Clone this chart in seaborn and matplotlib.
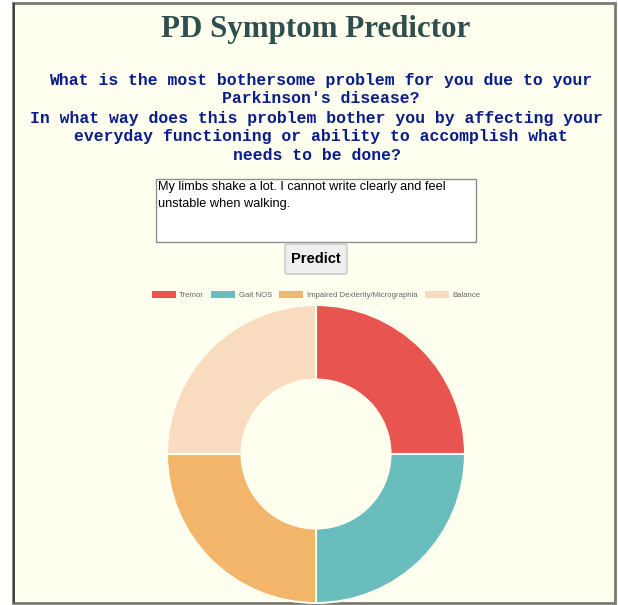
import numpy as np
import matplotlib.pyplot as plt
import seaborn as sns
from matplotlib.patches import Rectangle, FancyBboxPatch

# data
symptoms = ['Tremor', 'Gait NOS', 'Impaired Dexterity/Micrographia', 'Balance']
scores = [25, 25, 25, 25]
colors = ['#E85551', '#6ABDBD', '#F3B56A', '#F9DCC0']

title = 'PD Symptom Predictor'
question_lines = [
    "What is the most bothersome problem for you due to your",
    "Parkinson's disease?",
    "In what way does this problem bother you by affecting your",
    "everyday functioning or ability to accomplish what",
    "needs to be done?",
]
answer_lines = ["My limbs shake a lot. I cannot write clearly and feel",
                "unstable when walking."]

sns.set_theme(style='white')
plt.rcParams['font.family'] = ['Liberation Sans', 'DejaVu Sans']

W, H = 618, 605
fig = plt.figure(figsize=(W / 100, H / 100), dpi=100)
fig.patch.set_facecolor('white')


def fx(px):
    return px / W


def fy(py):
    return 1 - py / H


# page frame
fig.patches.append(Rectangle((fx(13), fy(603)), fx(602), 600 / H, transform=fig.transFigure,
                             facecolor='#FFFFF0', edgecolor='#7a7a72', lw=2, zorder=-2))
fig.patches.append(Rectangle((fx(13), fy(603)), fx(1.5), 600 / H, transform=fig.transFigure,
                             facecolor='#444444', edgecolor='none', zorder=-1))

# heading
fig.text(fx(316), fy(29), title, ha='center', va='center', fontsize=22.3,
         fontweight='bold', color='#2F4F4F', family=['Liberation Serif', 'DejaVu Serif'])

# question lines (centres as laid out on the page)
ys = [80, 99, 118, 137, 156]
xs = [320.5, 321, 316, 320.5, 317]
for line, x, y in zip(question_lines, xs, ys):
    fig.text(fx(x), fy(y), line, ha='center', va='center', fontsize=11.9,
             fontweight='bold', color='#0A1D8C', family=['Liberation Mono', 'DejaVu Sans Mono'])

# text area
fig.patches.append(Rectangle((fx(156), fy(242)), fx(320), 63 / H, transform=fig.transFigure,
                             facecolor='white', edgecolor='#8f8f8f', lw=1, zorder=2))
for i, line in enumerate(answer_lines):
    fig.text(fx(158), fy(187 + i * 17), line, ha='left', va='center', fontsize=9.2,
             color='black', zorder=3)

# button
fig.patches.append(FancyBboxPatch((fx(285), fy(274)), fx(62), 30 / H, transform=fig.transFigure,
                                  boxstyle='round,pad=0,rounding_size=0.004',
                                  facecolor='#EFEFEF', edgecolor='#c4c4c4', lw=1, zorder=2))
fig.text(fx(316), fy(259), 'Predict', ha='center', va='center', fontsize=10.5,
         fontweight='bold', color='black', zorder=3)

# doughnut chart
R = 149
ax = fig.add_axes([fx(316 - R), fy(454 + R), 2 * R / W, 2 * R / H])
ax.set_zorder(5)
ax.patch.set_alpha(0)
wedges, _ = ax.pie(scores, colors=colors, startangle=90, counterclock=False,
                   radius=1, wedgeprops=dict(width=0.5, edgecolor='#FFFFF0', linewidth=1.5))
ax.set_xlim(-1, 1)
ax.set_ylim(-1, 1)
ax.set_aspect('auto')
ax.axis('off')

# legend
handles = [Rectangle((0, 0), 1, 1, facecolor=c, edgecolor='none') for c in colors]
leg = fig.legend(handles, symptoms, loc='center', bbox_to_anchor=(fx(316), fy(295)),
                 ncol=4, frameon=False, fontsize=5.6, handlelength=3.1, handleheight=0.95,
                 handletextpad=0.45, columnspacing=0.9, labelcolor='#666666')

fig.savefig('out.png', dpi=100, facecolor=fig.get_facecolor())
